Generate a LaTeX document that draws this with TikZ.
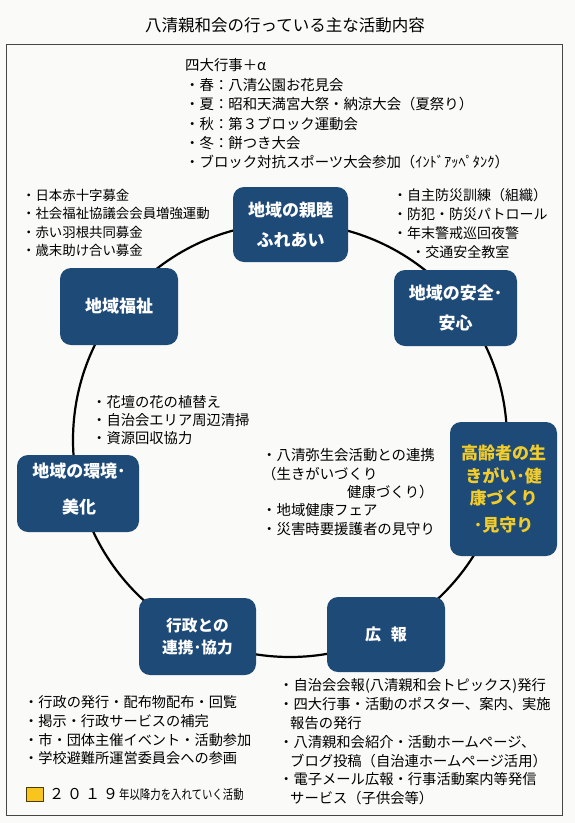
\documentclass[tikz,border=0pt]{standalone}
\usepackage{fontspec}
\usepackage{graphicx}
\setmainfont{Noto Sans CJK JP}
\definecolor{boxblue}{RGB}{30,74,120}
\definecolor{hiyellow}{RGB}{242,204,42}
\definecolor{paper}{RGB}{250,250,248}
\definecolor{framegray}{RGB}{70,70,70}
\definecolor{legendyellow}{RGB}{247,197,30}
\begin{document}
\begin{tikzpicture}[x=1pt,y=-1pt,
  box/.style={fill=boxblue, rounded corners=11pt, text=white, align=center, inner sep=0pt},
  boxtext/.style={text=white, align=center, inner sep=0pt},
  listblock/.style={anchor=north west, inner sep=0pt, align=left},
]
\fill[paper] (0,0) rectangle (575,823);
\useasboundingbox (0,0) rectangle (575,823);

% title and frame
\node[inner sep=0pt, font=\fontsize{16.5}{18}\selectfont] (title) at (285,25) {八清親和会の行っている主な活動内容};
\draw[framegray, line width=0.9pt] (6,44) rectangle (562,815);

% ring
\node[circle, draw=black, line width=2.2pt, minimum size=434pt, inner sep=0pt] (ring) at (290,440) {};

% boxes
\node[box, minimum width=115pt, minimum height=75pt, font=\bfseries\fontsize{17}{30}\selectfont] (shinboku) at (290.5,224.5) {地域の親睦\\ふれあい};
\node[box, minimum width=123pt, minimum height=76pt, font=\bfseries\fontsize{17}{30}\selectfont] (anzen) at (455.5,308) {地域の安全･\\安心};
\node[box, minimum width=118pt, minimum height=77pt, font=\bfseries\fontsize{17}{30}\selectfont] (fukushi) at (119,306.5) {地域福祉};
\node[box, minimum width=122pt, minimum height=77pt] (kankyo) at (78,493.5) {};
\node[boxtext, font=\bfseries\fontsize{17}{36}\selectfont] (kankyoT) at (79,489) {地域の環境･\\美化};
\node[box, minimum width=107pt, minimum height=134pt, text=hiyellow, font=\bfseries\fontsize{17}{22.5}\selectfont] (koureisha) at (503.5,489) {高齢者の生\\きがい･健\\康づくり\\[4pt]･見守り};
\node[box, minimum width=117pt, minimum height=77pt, font=\bfseries\fontsize{15.7}{21.6}\selectfont] (gyousei) at (197.5,636.5) {行政との\\連携･協力};
\node[box, minimum width=118pt, minimum height=75pt, font=\bfseries\fontsize{16}{20}\selectfont] (kouhou) at (386,634.5) {広\hspace{0.6em}報};

% lists
\node[listblock, font=\fontsize{14.4}{19.4}\selectfont] (events) at (185,58.5) {四大行事＋α\\・春：八清公園お花見会\\・夏：昭和天満宮大祭・納涼大会（夏祭り）\\・秋：第３ブロック運動会\\・冬：餅つき大会\\・ブロック対抗スポーツ大会参加（ｲﾝﾄﾞｱｯﾍﾟﾀﾝｸ）};

\node[listblock, font=\fontsize{13.4}{18.4}\selectfont] (welfarelist) at (22,189) {・日本赤十字募金\\・社会福祉協議会会員増強運動\\・赤い羽根共同募金\\・歳末助け合い募金};

\node[listblock, font=\fontsize{14}{19}\selectfont] (safetylist) at (393,188.7) {・自主防災訓練（組織）\\・防犯・防災パトロール\\・年末警戒巡回夜警\\\hspace{1.3em}・交通安全教室};

\node[listblock, font=\fontsize{14.3}{18}\selectfont] (envlist) at (92,395.6) {・花壇の花の植替え\\・自治会エリア周辺清掃\\・資源回収協力};

\node[listblock, font=\fontsize{14.4}{18.3}\selectfont] (elderlist) at (262,448.5) {・八清弥生会活動との連携\\（生きがいづくり\\\hspace{85pt}健康づくり）\\・地域健康フェア\\・災害時要援護者の見守り};

\node[listblock, font=\fontsize{14.2}{18.7}\selectfont] (govlist) at (24,695.6) {・行政の発行・配布物配布・回覧\\・掲示・行政サービスの補完\\・市・団体主催イベント・活動参加\\・学校避難所運営委員会への参画};

\node[listblock, font=\fontsize{14.3}{18.8}\selectfont] (prlist) at (279,678.6) {・自治会会報(八清親和会トピックス)発行\\・四大行事・活動のポスター、案内、実施\\\hspace{11pt}報告の発行\\・八清親和会紹介・活動ホームページ、\\\hspace{11pt}ブログ投稿（自治連ホームページ活用）\\・電子メール広報・行事活動案内等発信\\\hspace{11pt}サービス（子供会等）};

% legend
\node[draw=black!70!legendyellow, line width=0.6pt, fill=legendyellow, minimum width=17pt, minimum height=14pt, inner sep=0pt] (legendbox) at (34.5,794) {};
\node[anchor=west, inner sep=0pt] (legendtext) at (49,794) {{\fontsize{15}{15}\selectfont ２\hspace{3pt}０\hspace{3pt}１\hspace{3pt}９}\hspace{1pt}\scalebox{0.8}[1]{\fontsize{13}{15}\selectfont 年以降力を入れていく活動}};
\end{tikzpicture}
\end{document}
